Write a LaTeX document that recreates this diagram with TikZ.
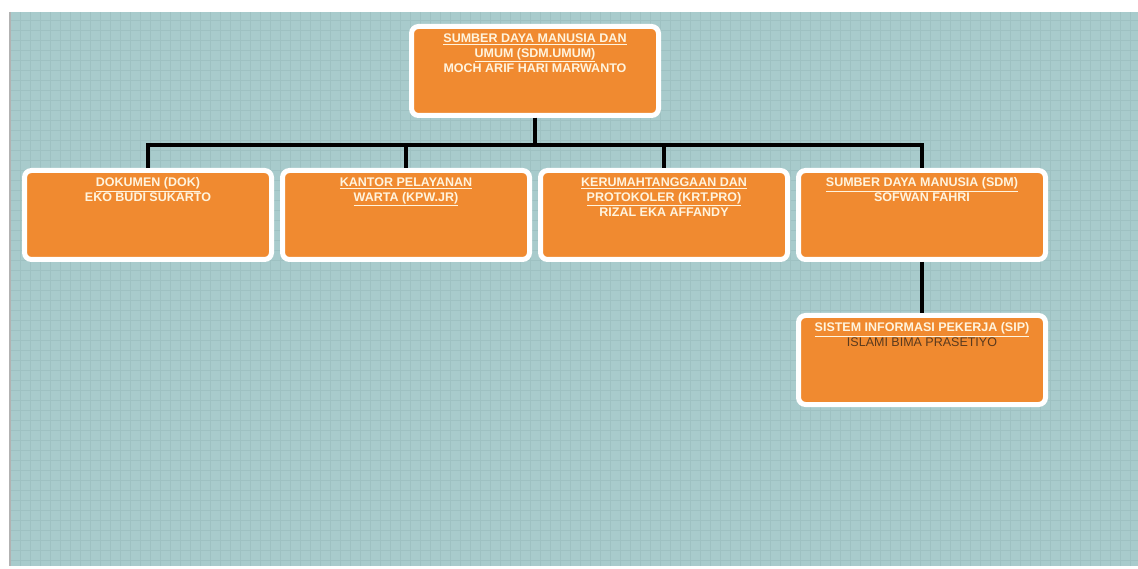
\documentclass[tikz,border=0pt]{standalone}
\usepackage{fontspec}
\setmainfont{Liberation Sans}
\usetikzlibrary{positioning}

\definecolor{sheet}{HTML}{A8CBCC}
\definecolor{gridline}{HTML}{9EC1C2}
\definecolor{boxorange}{HTML}{F08A30}
\definecolor{cream}{HTML}{FFF4DE}
\definecolor{namebrown}{HTML}{5A3A1E}

\begin{document}
\begin{tikzpicture}[x=1pt,y=-1pt,node distance=258pt,
  unit node/.style={rectangle,rounded corners=7pt,fill=boxorange,draw=white,line width=5pt,
    minimum width=247pt,minimum height=89pt,inner sep=0pt},
  unit text/.style={below=9.5pt,inner sep=0pt,align=center,text=cream,
    font=\fontsize{12.5}{15}\selectfont\bfseries},
  link/.style={draw=black,line width=4pt}]

  % page and grid paper
  \useasboundingbox (0,0) rectangle (1138,569);
  \fill[white] (0,0) rectangle (1138,569);
  \fill[sheet] (9,12) rectangle (1138,566);
  \draw[gridline,line width=0.4pt] (9,12) grid[step=10pt] (1138,566);
  \draw[gray!60,line width=2pt] (10,12) -- (10,566);

  \node[unit node] (sdmu) at (535,71)
    [label={[unit text]north:{\underline{SUMBER DAYA MANUSIA DAN}\\\underline{UMUM (SDM.UMUM)}\\MOCH ARIF HARI MARWANTO}}] {};
  \node[unit node] (dok) at (148,215)
    [label={[unit text]north:{\underline{DOKUMEN (DOK)}\\EKO BUDI SUKARTO}}] {};
  \node[unit node] (kpw) [right of=dok]
    [label={[unit text]north:{\underline{KANTOR PELAYANAN}\\\underline{WARTA (KPW.JR)}}}] {};
  \node[unit node] (krt) [right of=kpw]
    [label={[unit text]north:{\underline{KERUMAHTANGGAAN DAN}\\\underline{PROTOKOLER (KRT.PRO)}\\RIZAL EKA AFFANDY}}] {};
  \node[unit node] (sdm) [right of=krt]
    [label={[unit text]north:{\underline{SUMBER DAYA MANUSIA (SDM)}\\SOFWAN FAHRI}}] {};
  \node[unit node,node distance=145pt] (sip) [below of=sdm]
    [label={[unit text]north:{\underline{SISTEM INFORMASI PEKERJA (SIP)}\\{\mdseries\color{namebrown}ISLAMI BIMA PRASETIYO}}}] {};

  \draw[link] (sdmu.south) -- ++(0,27) -| (dok.north);
  \draw[link] (sdmu.south) -- ++(0,27) -| (kpw.north);
  \draw[link] (sdmu.south) -- ++(0,27) -| (krt.north);
  \draw[link] (sdmu.south) -- ++(0,27) -| (sdm.north);
  \draw[link] (sdm.south) -- (sip.north);
\end{tikzpicture}
\end{document}
